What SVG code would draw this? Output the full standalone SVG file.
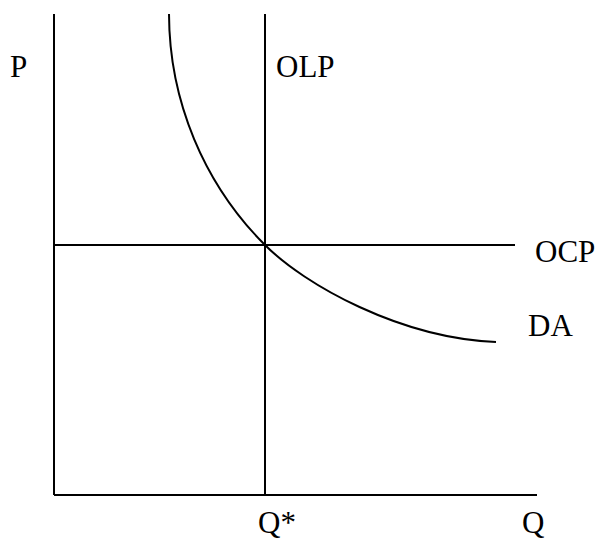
<svg xmlns="http://www.w3.org/2000/svg" width="597" height="539" viewBox="0 0 597 539">
<style>
.ln{stroke:#000;stroke-width:2;fill:none}
text{font-family:"Liberation Serif","Times New Roman",serif;font-size:31px;fill:#000}
</style>
<rect width="597" height="539" fill="#fff"/>
<g id="connectors">
<path id="axis-p" class="ln" d="M54,14 V495"/>
<path id="axis-q" class="ln" d="M54,495 H537"/>
<path id="olp" class="ln" d="M265,14 V495"/>
<path id="ocp" class="ln" d="M54,245 H515"/>
<path id="da" class="ln" d="M169,14 A328 328 0 0 0 265,245 C305,285 400,338 496,342"/>
</g>
<g id="label-p"><text x="10" y="77">P</text></g>
<g id="label-olp"><text x="276" y="77">OLP</text></g>
<g id="label-ocp"><text x="535" y="262">OCP</text></g>
<g id="label-da"><text x="528" y="336">DA</text></g>
<g id="label-qstar"><text x="258" y="533">Q*</text></g>
<g id="label-q"><text x="522" y="533">Q</text></g>
</svg>
